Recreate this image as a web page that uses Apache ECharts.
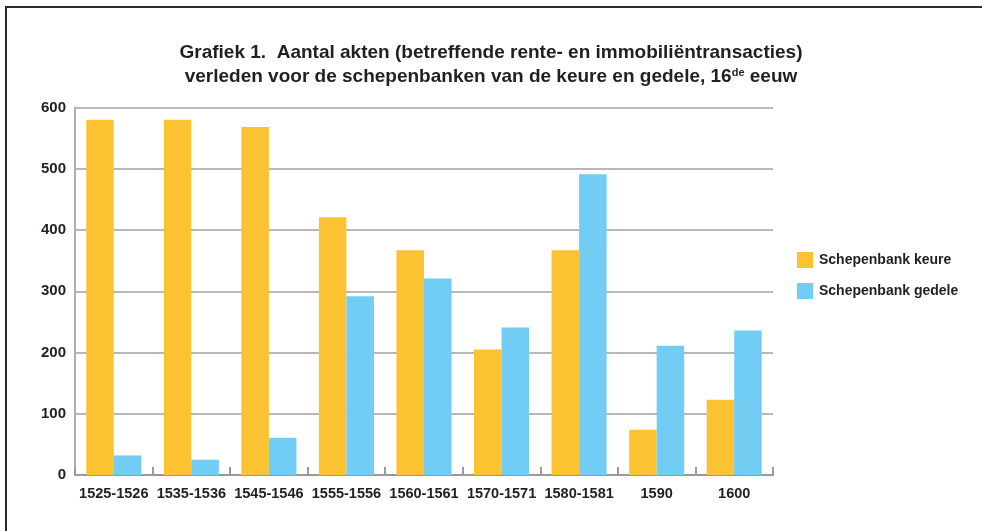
<!DOCTYPE html>
<html>
<head>
<meta charset="utf-8">
<script src="https://cdn.jsdelivr.net/npm/echarts@6/dist/echarts.min.js"></script>
<style>html,body{margin:0;padding:0;background:#fff}#c{width:982px;height:531px}</style>
</head>
<body>
<div id="c"></div>
<script>
var categories = ['1525-1526','1535-1536','1545-1546','1555-1556','1560-1561','1570-1571','1580-1581','1590','1600'];
var keure = [580, 580, 568, 421, 367, 205, 367, 74, 123];
var gedele = [32, 25, 61, 292, 321, 241, 491, 211, 236];
var seriesNames = ['Schepenbank keure', 'Schepenbank gedele'];
var yTicks = {min: 0, max: 600, interval: 100};

var FONT = '"Liberation Sans", Arial, sans-serif';
var TXT = '#231f20';
var chart = echarts.init(document.getElementById('c'), null, {renderer: 'canvas'});
chart.setOption({
  backgroundColor: '#fff',
  animation: false,
  title: {
    left: 'center',
    top: 36,
    text: '{a|Grafiek 1.  Aantal akten (betreffende rente- en immobiliëntransacties)}\n{a|verleden voor de schepenbanken van de keure en gedele, 16}{s|de}{a| eeuw}',
    textStyle: {
      rich: {
        a: {fontFamily: FONT, fontSize: 19, fontWeight: 'bold', color: TXT, lineHeight: 24},
        s: {fontFamily: FONT, fontSize: 11, fontWeight: 'bold', color: TXT, lineHeight: 24, padding: [0, 0, 9, 0]}
      }
    }
  },
  graphic: [
    {type: 'line', shape: {x1: 6, y1: 7, x2: 982, y2: 7}, style: {stroke: '#2b2b2b', lineWidth: 2}},
    {type: 'line', shape: {x1: 6, y1: 6, x2: 6, y2: 531}, style: {stroke: '#2b2b2b', lineWidth: 2}}
  ],
  legend: {
    orient: 'vertical',
    left: 792,
    top: 247,
    itemWidth: 16,
    itemHeight: 16,
    itemGap: 15,
    icon: 'rect',
    textStyle: {fontFamily: FONT, fontSize: 14, fontWeight: 'bold', color: TXT, padding: [0, 0, 0, 1]},
    data: seriesNames
  },
  grid: {left: 75, right: 209, top: 107.5, bottom: 56, containLabel: false},
  xAxis: {
    type: 'category',
    data: categories,
    axisLine: {lineStyle: {color: '#9a9a9a', width: 2}},
    axisTick: {show: true, inside: true, length: 8, lineStyle: {color: '#9a9a9a', width: 2}},
    axisLabel: {fontFamily: FONT, fontSize: 14.5, fontWeight: 'bold', color: TXT, margin: 11, interval: 0},
    splitLine: {show: false}
  },
  yAxis: {
    type: 'value',
    min: yTicks.min, max: yTicks.max, interval: yTicks.interval,
    axisLine: {show: true, lineStyle: {color: '#b0b0b0', width: 2}},
    axisTick: {show: false},
    axisLabel: {fontFamily: FONT, fontSize: 15, fontWeight: 'bold', color: TXT, margin: 9},
    splitLine: {show: true, lineStyle: {color: '#b8b8b8', width: 2}}
  },
  series: [
    {name: seriesNames[0], type: 'bar', data: keure, itemStyle: {color: '#fbc232'}, barGap: '0%', barCategoryGap: '29%'},
    {name: seriesNames[1], type: 'bar', data: gedele, itemStyle: {color: '#72cdf4'}, barGap: '0%', barCategoryGap: '29%'}
  ]
});
</script>
</body>
</html>
